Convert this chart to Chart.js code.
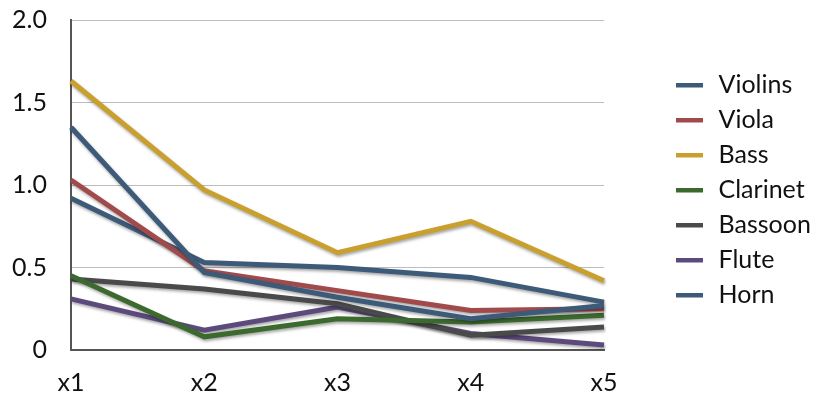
<!DOCTYPE html>
<html>
<head>
<meta charset="utf-8">
<script src="https://cdn.jsdelivr.net/npm/chart.js@4.4.0/dist/chart.umd.min.js"></script>
<style>
  html, body { margin: 0; padding: 0; background: #fff; }
  #wrap { width: 817px; height: 400px; }
</style>
</head>
<body>
<div id="wrap"><canvas id="myChart" width="817" height="400"></canvas></div>
<script>
const categories = ["x1", "x2", "x3", "x4", "x5"];
const yTicks = [0, 0.5, 1.0, 1.5, 2.0];

const violins  = [1.35, 0.47, 0.32, 0.19, 0.27];
const viola    = [1.03, 0.48, 0.36, 0.24, 0.25];
const bass     = [1.63, 0.97, 0.59, 0.78, 0.42];
const clarinet = [0.45, 0.08, 0.19, 0.17, 0.21];
const bassoon  = [0.43, 0.37, 0.28, 0.09, 0.14];
const flute    = [0.31, 0.12, 0.26, 0.10, 0.03];
const horn     = [0.92, 0.53, 0.50, 0.44, 0.29];

const names  = ["Violins", "Viola", "Bass", "Clarinet", "Bassoon", "Flute", "Horn"];
const series = [violins, viola, bass, clarinet, bassoon, flute, horn];
const colors = ["#3d5a79", "#a04a4b", "#c9a02e", "#3c6a2e", "#4a4a4a", "#5c4a7c", "#3d5a79"];

const fontFamily = "Lato, 'Open Sans', sans-serif";

// little line swatch for the legend, with empty room on the right before the text
function swatch(color) {
  const c = document.createElement('canvas');
  c.width = 30;
  c.height = 6;
  const g = c.getContext('2d');
  g.fillStyle = color;
  g.fillRect(0, 1, 27, 4.5);
  return c;
}

// soft drop shadow under the lines, like the original
const shadowPlugin = {
  id: 'lineShadow',
  beforeDatasetDraw(chart) {
    const ctx = chart.ctx;
    ctx.save();
    ctx.shadowColor = 'rgba(0,0,0,0.35)';
    ctx.shadowBlur = 3;
    ctx.shadowOffsetX = 1;
    ctx.shadowOffsetY = 2;
  },
  afterDatasetDraw(chart) {
    chart.ctx.restore();
  }
};

// keep the legend wide so the plot stops where the original does,
// then slide the legend items right and a bit up
const legendPlace = {
  id: 'legendPlace',
  afterInit(chart) {
    const lg = chart.legend;
    const fit = lg.fit.bind(lg);
    lg.fit = function () { fit(); this.width = 213; };
  },
  afterLayout(chart) {
    const lg = chart.legend;
    lg.left = chart.chartArea.right + 62;
    lg.top -= 10;
    lg.bottom -= 10;
  }
};

let myChart = document.getElementById("myChart");

new Chart(myChart, {
  type: 'line',
  data: {
    labels: categories,
    datasets: names.map((n, i) => ({
      label: n,
      data: series[i],
      borderColor: colors[i],
      backgroundColor: colors[i],
      borderWidth: 5,
      pointRadius: 0,
      tension: 0,
      fill: false
    }))
  },
  options: {
    responsive: false,
    animation: false,
    layout: { padding: 0 },
    plugins: {
      tooltip: { enabled: false },
      legend: {
        position: 'right',
        labels: {
          usePointStyle: true,
          pointStyleWidth: 30,
          boxHeight: 6,
          padding: 10,
          color: '#111',
          font: { family: fontFamily, size: 25 },
          generateLabels(chart) {
            const items = Chart.defaults.plugins.legend.labels.generateLabels(chart);
            items.forEach((it, i) => { it.pointStyle = swatch(colors[i]); it.lineWidth = 0; });
            return items;
          }
        }
      }
    },
    scales: {
      x: {
        offset: false,
        afterFit(scale) { scale.height = 50; },
        grid: { display: false, drawTicks: false },
        border: { color: '#555', width: 2 },
        ticks: { color: '#111', padding: 18, font: { family: fontFamily, size: 25 } }
      },
      y: {
        min: 0,
        max: 2,
        afterFit(scale) { scale.width = 71; scale.paddingTop = 20; },
        afterBuildTicks(axis) { axis.ticks = yTicks.map(v => ({ value: v })); },
        grid: { color: '#bdbdbd', lineWidth: 1, drawTicks: false },
        border: { color: '#555', width: 2 },
        ticks: {
          color: '#111',
          padding: 24,
          font: { family: fontFamily, size: 25 },
          callback: v => (v === 0 ? "0" : v.toFixed(1))
        }
      }
    }
  },
  plugins: [shadowPlugin, legendPlace]
});
</script>
</body>
</html>
